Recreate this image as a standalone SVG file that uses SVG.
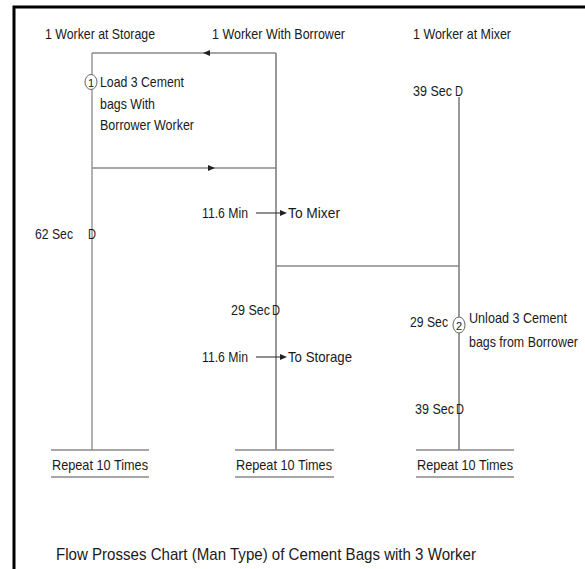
<svg xmlns="http://www.w3.org/2000/svg" width="585" height="569" viewBox="0 0 585 569">
<style>
text{font-family:"Liberation Sans",Arial,sans-serif;font-size:15px;fill:#1a1a1a;}
.ln{stroke:#888;stroke-width:1.3;fill:none;}
.dk{stroke:#555;stroke-width:1.2;fill:none;}
.cap{font-size:17px;}
.num{font-size:11px;}
</style>
<rect width="585" height="569" fill="#fff"/>
<path d="M14,569 L14,7 L585,7" stroke="#000" stroke-width="3" fill="none"/>
<g id="connectors">
<line class="ln" x1="92" y1="53" x2="92" y2="450"/>
<line class="dk" x1="276" y1="53" x2="276" y2="450"/>
<line class="dk" x1="459" y1="97" x2="459" y2="450"/>
<line class="ln" x1="276" y1="53" x2="92" y2="53"/>
<path d="M210,50 L203,53 L210,56 z" fill="#222"/>
<line class="ln" x1="92" y1="168" x2="276" y2="168"/>
<path d="M208,165 L215,168 L208,171 z" fill="#222"/>
<line class="ln" x1="276" y1="266" x2="459" y2="266"/>
<line x1="256" y1="213" x2="281" y2="213" stroke="#222" stroke-width="1"/>
<path d="M280,210 L287,213 L280,216 z" fill="#222"/>
<line x1="256" y1="357" x2="281" y2="357" stroke="#222" stroke-width="1"/>
<path d="M280,354 L287,357 L280,360 z" fill="#222"/>
</g>
<g id="headers">
<text x="45" y="39" textLength="110" lengthAdjust="spacingAndGlyphs">1 Worker at Storage</text>
<text x="212" y="39" textLength="133" lengthAdjust="spacingAndGlyphs">1 Worker With Borrower</text>
<text x="413" y="39" textLength="98" lengthAdjust="spacingAndGlyphs">1 Worker at Mixer</text>
</g>
<g id="op1">
<ellipse cx="91" cy="82" rx="6" ry="7.5" fill="#fff" stroke="#666" stroke-width="1"/>
<text class="num" x="91" y="86.5" text-anchor="middle">1</text>
<text x="100" y="87" textLength="84" lengthAdjust="spacingAndGlyphs">Load 3 Cement</text>
<text x="100" y="109" textLength="55" lengthAdjust="spacingAndGlyphs">bags With</text>
<text x="100" y="130" textLength="94" lengthAdjust="spacingAndGlyphs">Borrower Worker</text>
</g>
<g id="delay-storage">
<text x="35" y="239"><tspan textLength="38" lengthAdjust="spacingAndGlyphs">62 Sec</tspan><tspan x="88" textLength="8" lengthAdjust="spacingAndGlyphs">D</tspan></text>
</g>
<g id="move-mixer">
<text x="202" y="218" textLength="46" lengthAdjust="spacingAndGlyphs">11.6 Min</text>
<text x="288" y="218" textLength="52" lengthAdjust="spacingAndGlyphs">To Mixer</text>
</g>
<g id="delay-borrower">
<text x="231" y="315"><tspan textLength="39" lengthAdjust="spacingAndGlyphs">29 Sec</tspan><tspan x="272" textLength="8" lengthAdjust="spacingAndGlyphs">D</tspan></text>
</g>
<g id="move-storage">
<text x="202" y="362" textLength="46" lengthAdjust="spacingAndGlyphs">11.6 Min</text>
<text x="288" y="362" textLength="64" lengthAdjust="spacingAndGlyphs">To Storage</text>
</g>
<g id="delay-mixer-1">
<text x="413" y="96"><tspan textLength="39" lengthAdjust="spacingAndGlyphs">39 Sec</tspan><tspan x="455" textLength="8" lengthAdjust="spacingAndGlyphs">D</tspan></text>
</g>
<g id="op2">
<text x="410" y="327" textLength="38" lengthAdjust="spacingAndGlyphs">29 Sec</text>
<ellipse cx="459" cy="325" rx="6" ry="8" fill="#fff" stroke="#666" stroke-width="1"/>
<text class="num" x="459" y="329.5" text-anchor="middle">2</text>
<text x="469" y="323" textLength="98" lengthAdjust="spacingAndGlyphs">Unload 3 Cement</text>
<text x="469" y="347" textLength="109" lengthAdjust="spacingAndGlyphs">bags from Borrower</text>
</g>
<g id="delay-mixer-2">
<text x="415" y="414"><tspan textLength="39" lengthAdjust="spacingAndGlyphs">39 Sec</tspan><tspan x="456" textLength="8" lengthAdjust="spacingAndGlyphs">D</tspan></text>
</g>
<g id="repeat-storage">
<line class="ln" x1="51" y1="450" x2="149" y2="450"/>
<line class="ln" x1="51" y1="477" x2="149" y2="477"/>
<text x="52" y="470" textLength="96" lengthAdjust="spacingAndGlyphs">Repeat 10 Times</text>
</g>
<g id="repeat-borrower">
<line class="ln" x1="235" y1="450" x2="334" y2="450"/>
<line class="ln" x1="235" y1="477" x2="334" y2="477"/>
<text x="236" y="470" textLength="96" lengthAdjust="spacingAndGlyphs">Repeat 10 Times</text>
</g>
<g id="repeat-mixer">
<line class="ln" x1="416" y1="450" x2="514" y2="450"/>
<line class="ln" x1="416" y1="477" x2="514" y2="477"/>
<text x="417" y="470" textLength="96" lengthAdjust="spacingAndGlyphs">Repeat 10 Times</text>
</g>
<g id="caption">
<text class="cap" x="56" y="560" textLength="420" lengthAdjust="spacingAndGlyphs">Flow Prosses Chart (Man Type) of Cement Bags with 3 Worker</text>
</g>
</svg>
